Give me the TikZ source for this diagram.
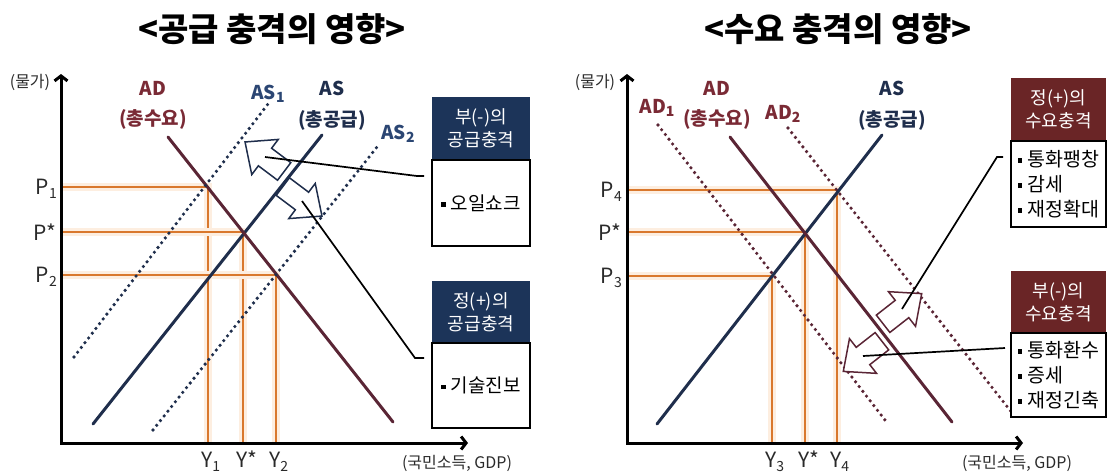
\documentclass[tikz,border=0pt]{standalone}
\usepackage{fontspec}
\setmainfont{Noto Sans CJK KR}
\usetikzlibrary{arrows.meta}
\definecolor{navyhd}{HTML}{1C3459}
\definecolor{maroonhd}{HTML}{6A2526}
\definecolor{adline}{HTML}{5A2535}
\definecolor{asline}{HTML}{1F2E4C}
\definecolor{aslab}{HTML}{2B4673}
\definecolor{adlab}{HTML}{7A2A35}
\definecolor{orng}{HTML}{D9782D}
\definecolor{halo}{HTML}{FDEEE0}
\definecolor{txtgray}{HTML}{2A2A2A}
\newcommand{\lsub}[1]{\raisebox{-0.38ex}{\fontsize{14}{14}\selectfont #1}}
\newcommand{\bul}{\raisebox{0.35ex}{\rule{4.5pt}{4.5pt}}\hspace{5pt}}
\begin{document}
\begin{tikzpicture}[x=1pt,y=-1pt,
  title/.style={font=\fontsize{33}{36}\selectfont\bfseries, inner sep=0pt},
  lab/.style={font=\fontsize{19}{22}\selectfont\bfseries, inner sep=0pt, anchor=base},
  axlab/.style={font=\fontsize{21}{22}\selectfont, text=txtgray, inner sep=0pt},
  small/.style={font=\fontsize{16}{18}\selectfont, text=txtgray, inner sep=0pt},
  axisline/.style={line width=3pt, line join=miter, {Straight Barb[length=5pt,width=13pt]}-{Straight Barb[length=5pt,width=13pt]}},
  orngl/.style={draw=orng, line width=1.6pt, preaction={draw=halo, line width=8pt}},
  solidl/.style={line width=3pt, line cap=round},
  dotl/.style={line width=3.6pt, line cap=round, dash pattern=on 0pt off 6pt},
  conn/.style={draw=black, line width=1.7pt},
  hdr/.style={fill=#1, text=white, minimum width=98pt, align=center, inner sep=0pt,
     font=\fontsize{18}{23}\selectfont},
  bodybox/.style={draw=black, line width=1.8pt, fill=white, minimum width=98pt, inner sep=0pt,
     font=\fontsize{19}{25}\selectfont, align=left},
  blockarrow/.style={draw=#1, line width=1.5pt, fill=white, line join=miter}
]
\useasboundingbox (0,0) rectangle (1109,475);

% hollow block arrow, drawn in local coordinates pointing along +x
\def\blockarrowpath{(-24,-11) -- (0,-11) -- (0,-22) -- (25,0) -- (0,22) -- (0,11) -- (-24,11) -- cycle}

% ---------------- Titles
\node[title, anchor=base] (t1) at (272,41) {<공급 충격의 영향>};
\node[title, anchor=base] (t2) at (838,41) {<수요 충격의 영향>};

% ================= LEFT PANEL
\draw[orngl] (61,187) -- (208,187) -- (208,443);
\draw[orngl] (61,232) -- (243,232) -- (243,443);
\draw[orngl] (61,275) -- (276,275) -- (276,443);

\draw[solidl, asline] (93,424) -- (322,135);
\draw[solidl, adline] (168,137) -- (393,422);
\draw[dotl, asline] (74,357) -- (268,104);
\draw[dotl, asline] (153,430) -- (377,147);

\draw[axisline] (61,74) -- (61,443) -- (468,443);

\node[small] (ly) at (30,82) {(물가)};
\node[small] (lx) at (457,463) {(국민소득, GDP)};

\node[axlab, anchor=base east] (lp1) at (57,194) {P\lsub{1}};
\node[axlab, anchor=base east] (lps) at (57,240) {P*};
\node[axlab, anchor=base east] (lp2) at (57,282) {P\lsub{2}};
\node[axlab, anchor=base west] (ly1) at (201,467) {Y\lsub{1}};
\node[axlab, anchor=base west] (lys) at (236,467) {Y*};
\node[axlab, anchor=base west] (ly2) at (269,467) {Y\lsub{2}};

\node[lab, text=adlab] (lad) at (153,95) {AD};
\node[lab, text=adlab] (lad2) at (153,125) {(총수요)};
\node[lab, text=asline] (las) at (332,95) {AS};
\node[lab, text=asline] (las2) at (332,126) {(총공급)};
\node[lab, text=aslab] (las1) at (268,99) {AS\lsub{1}};
\node[lab, text=aslab] (las3) at (398,139) {AS\lsub{2}};

\coordinate (la1) at (265,157);
\coordinate (la2) at (302,201);
\draw[blockarrow=asline, shift={(la1)}, rotate=143] \blockarrowpath;
\draw[blockarrow=asline, shift={(la2)}, rotate=-37] \blockarrowpath;

\node[hdr=navyhd, minimum height=63pt] (lb1h) at (481,128.5) {부(-)의\\공급충격};
\node[bodybox, minimum height=86pt] (lb1b) at (481,203) {\bul 오일쇼크};
\node[hdr=navyhd, minimum height=62pt] (lb2h) at (481,312) {정(+)의\\공급충격};
\node[bodybox, minimum height=85pt] (lb2b) at (481,385.5) {\bul 기술진보};

\coordinate (lc1a) at (417,176);
\coordinate (lc1b) at (424,176);
\coordinate (lc2a) at (415,358);
\coordinate (lc2b) at (424,358);
\draw[conn] (la1) -- (lc1a) -- (lc1b);
\draw[conn] (la2) -- (lc2a) -- (lc2b);

% ================= RIGHT PANEL
\draw[orngl] (627,190) -- (837,190) -- (837,443);
\draw[orngl] (627,232) -- (805,232) -- (805,443);
\draw[orngl] (627,276) -- (772,276) -- (772,443);

\draw[solidl, asline] (657,424) -- (882,135);
\draw[solidl, adline] (730,137) -- (952,422);
\draw[dotl, adline] (658,125) -- (888,424);
\draw[dotl, adline] (788,128) -- (1013,414);

\draw[axisline] (627,74) -- (627,443) -- (1023,443);

\node[small] (ry) at (595,82) {(물가)};
\node[small] (rx) at (1017,463) {(국민소득, GDP)};

\node[axlab, anchor=base east] (rp4) at (622,197) {P\lsub{4}};
\node[axlab, anchor=base east] (rps) at (622,240) {P*};
\node[axlab, anchor=base east] (rp3) at (622,283) {P\lsub{3}};
\node[axlab, anchor=base west] (ry3) at (765,467) {Y\lsub{3}};
\node[axlab, anchor=base west] (rys) at (798,467) {Y*};
\node[axlab, anchor=base west] (ry4) at (830,467) {Y\lsub{4}};

\node[lab, text=adlab] (rad) at (717,95) {AD};
\node[lab, text=adlab] (rad2) at (717,125) {(총수요)};
\node[lab, text=adlab] (rad1) at (657,113) {AD\lsub{1}};
\node[lab, text=adlab] (rad3) at (783,119) {AD\lsub{2}};
\node[lab, text=asline] (ras) at (892,95) {AS};
\node[lab, text=asline] (ras2) at (892,126) {(총공급)};

\coordinate (ra1) at (902,309);
\coordinate (ra2) at (863,356);
\draw[blockarrow=adline, shift={(ra1)}, rotate=38] \blockarrowpath;
\draw[blockarrow=adline, shift={(ra2)}, rotate=218] \blockarrowpath;

\node[hdr=maroonhd, minimum height=63pt, minimum width=95pt] (rb1h) at (1058.5,109.5) {정(+)의\\수요충격};
\node[bodybox, minimum height=86pt, minimum width=95pt, font=\fontsize{19.5}{25}\selectfont] (rb1b) at (1058.5,184) {\bul 통화팽창\\\bul 감세\\\bul 재정확대};
\node[hdr=maroonhd, minimum height=62pt, minimum width=95pt] (rb2h) at (1058.5,302) {부(-)의\\수요충격};
\node[bodybox, minimum height=84pt, minimum width=95pt, font=\fontsize{19.5}{25}\selectfont] (rb2b) at (1058.5,375) {\bul 통화환수\\\bul 증세\\\bul 재정긴축};

\coordinate (rc1a) at (997,157);
\coordinate (rc1b) at (1003,157);
\coordinate (rc2b) at (1005,348);
\draw[conn] (ra1) -- (rc1a) -- (rc1b);
\draw[conn] (ra2) -- (rc2b);
\end{tikzpicture}
\end{document}
